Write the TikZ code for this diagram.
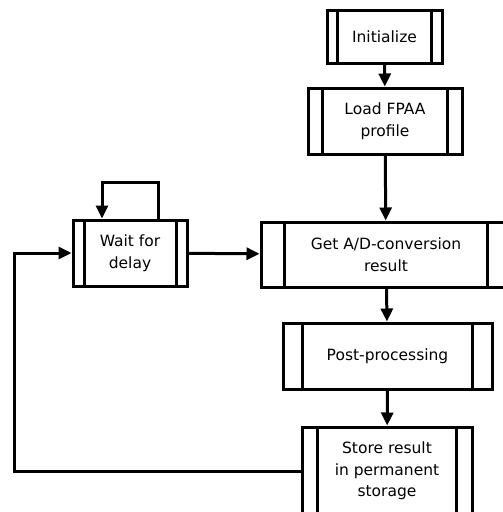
\documentclass[tikz,border=0pt]{standalone}
\usepackage{fontspec}
\setmainfont{DejaVu Sans}
\usetikzlibrary{arrows.meta}
\tikzset{
  procbox/.style={draw, line width=3pt, fill=white, align=center,
    inner sep=0pt, font=\fontsize{15.5}{21.5}\selectfont},
  flow/.style={line width=3pt, -{Triangle[length=13pt,width=12pt]}},
  plainline/.style={line width=3pt}
}
% the two inner side bars of a predefined-process box
\newcommand\procbars[2]{%
  \draw[plainline] ([xshift=#2]#1.north west) -- ([xshift=#2]#1.south west);
  \draw[plainline] ([xshift=-#2]#1.north east) -- ([xshift=-#2]#1.south east);}
\begin{document}
\begin{tikzpicture}[x=1pt, y=-1pt]
\useasboundingbox (0,0) rectangle (503,512);
\clip (0,0) rectangle (503,512);

\node[procbox, minimum width=115, minimum height=53] (init) at (384.5,36.5) {Initialize};
\node[procbox, minimum width=154, minimum height=66] (load) at (385,121) {Load FPAA\\profile};
\node[procbox, minimum width=250, minimum height=65] (get) at (386,254.5) {Get A/D-conversion\\result};
\node[procbox, minimum width=114, minimum height=66] (wait) at (130,253) {Wait for\\delay};
\node[procbox, minimum width=209, minimum height=66] (post) at (387.5,356) {Post-processing};
\node[procbox, minimum width=170, minimum height=88] (store) at (387,471) {Store result\\in permanent\\storage};

\procbars{init}{12}
\procbars{load}{16}
\procbars{get}{25}
\procbars{wait}{12.5}
\procbars{post}{21}
\procbars{store}{17}

% main flow
\draw[flow] (init) -- (load);
\draw[flow] (load) -- (get);
\draw[flow] (get) -- (post);
\draw[flow] (post) -- (store);
\draw[flow] (wait) -- (get);

% waiting loop above the delay box
\coordinate (sla) at (158,182);
\coordinate (slb) at (102,182);
\draw[flow] (wait.north -| sla) -- (sla) -- (slb) -- (wait.north -| slb);

% return path from storage back to the delay
\coordinate (rc) at (14,0);
\draw[flow] (store.west) -| (rc |- wait.west) -- (wait.west);
\end{tikzpicture}
\end{document}
